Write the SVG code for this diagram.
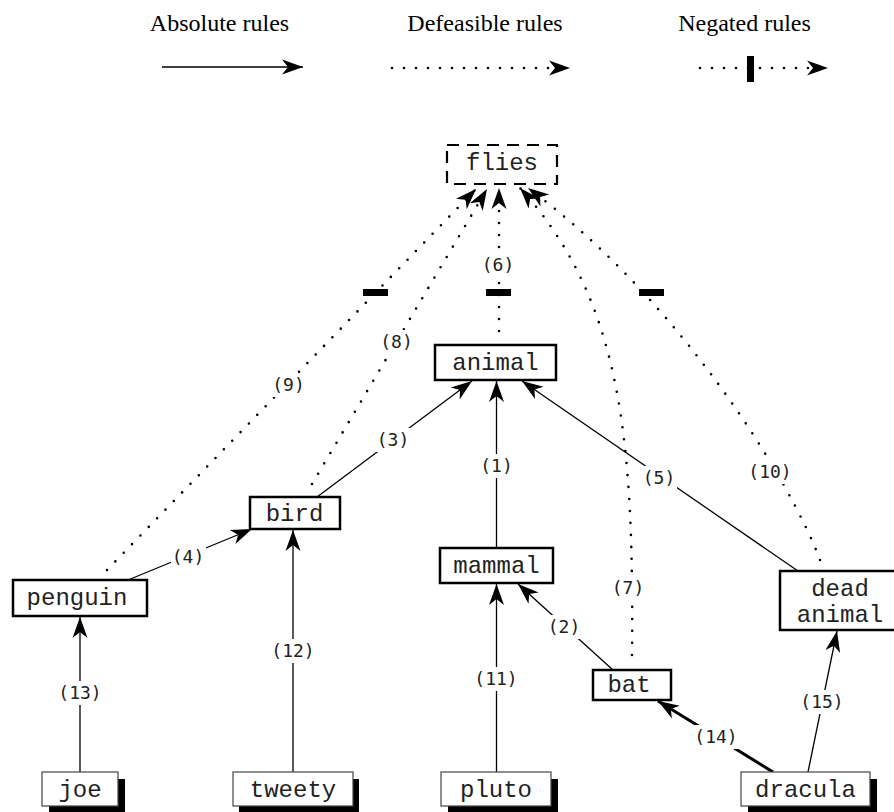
<svg xmlns="http://www.w3.org/2000/svg" width="894" height="812" viewBox="0 0 894 812">
<style>
.legend{font-family:"Liberation Serif","Times New Roman",serif;font-size:24px;fill:#000}
.nt{font-family:"Liberation Mono","Courier New",monospace;font-size:24px;fill:#222;text-anchor:middle}
.box{fill:#fff;stroke:#000;stroke-width:2.5}
.sbox{fill:#fff;stroke:#444;stroke-width:1.2}
.shadow{fill:#000}
.abs{fill:none;stroke:#000;stroke-width:1.3}
.thick{fill:none;stroke:#000;stroke-width:3}
.def{fill:none;stroke:#000;stroke-width:2.6;stroke-linecap:round;stroke-dasharray:0 12}
.bar{fill:#000}
.lbl{font-family:"DejaVu Sans Mono","Liberation Mono",monospace;font-size:18px;fill:#222;text-anchor:middle}
.lbg{fill:#fff}
</style>
<defs>
<marker id="ah" markerUnits="userSpaceOnUse" viewBox="-22 -10 24 20" markerWidth="24" markerHeight="20" refX="0" refY="0" orient="auto">
<path d="M0,0 L-21,-7.5 L-15,0 L-21,7.5 Z" fill="#000"/>
</marker>
</defs>

<g id="legend">
<text class="legend" x="219.5" y="31" text-anchor="middle">Absolute rules</text>
<text class="legend" x="485" y="31" text-anchor="middle">Defeasible rules</text>
<text class="legend" x="744.5" y="31" text-anchor="middle">Negated rules</text>
<path class="abs" d="M162 67 L303 67" marker-end="url(#ah)"/>
<path class="def" d="M392 68 L570 68" marker-end="url(#ah)"/>
<path class="def" d="M700 68 L828 68" marker-end="url(#ah)"/>
<rect class="bar" x="747" y="56" width="7" height="26"/>
</g>

<g id="connectors">
<path class="abs" d="M496.5 548 L496.5 381" marker-end="url(#ah)"/>
<path class="abs" d="M613 670 L518 584" marker-end="url(#ah)"/>
<path class="abs" d="M317 497 L472 381" marker-end="url(#ah)"/>
<path class="abs" d="M128 580 L252 529" marker-end="url(#ah)"/>
<path class="abs" d="M798 571 L522 381" marker-end="url(#ah)"/>
<path class="abs" d="M496.5 772 L496.5 584" marker-end="url(#ah)"/>
<path class="abs" d="M293 772 L293 530" marker-end="url(#ah)"/>
<path class="abs" d="M80 772 L80 617" marker-end="url(#ah)"/>
<path class="thick" d="M773 772 L658 701" marker-end="url(#ah)"/>
<path class="abs" d="M808 772 L837 631" marker-end="url(#ah)"/>
<path class="def" d="M107 570 L476 189" marker-end="url(#ah)"/>
<path class="def" d="M312 484 L487 189" marker-end="url(#ah)"/>
<path class="def" d="M499 331 L499 188" marker-end="url(#ah)"/>
<path class="def" d="M632 655 C634 440 622 300 520 188" marker-end="url(#ah)"/>
<path class="def" d="M820 560 C790 480 680 300 528 188" marker-end="url(#ah)"/>
<rect class="bar" x="363" y="289" width="25" height="7"/>
<rect class="bar" x="486" y="289" width="25" height="7"/>
<rect class="bar" x="639" y="289" width="25" height="7"/>
<g id="labels">
<rect class="lbg" x="479" y="454" width="35" height="24"/><text class="lbl" x="496.5" y="472">(1)</text>
<rect class="lbg" x="547" y="615" width="35" height="24"/><text class="lbl" x="564" y="633">(2)</text>
<rect class="lbg" x="376" y="428" width="35" height="24"/><text class="lbl" x="393" y="446">(3)</text>
<rect class="lbg" x="171" y="545" width="35" height="24"/><text class="lbl" x="188" y="563">(4)</text>
<rect class="lbg" x="642" y="466" width="35" height="24"/><text class="lbl" x="659" y="484">(5)</text>
<rect class="lbg" x="481" y="253" width="35" height="24"/><text class="lbl" x="498" y="271">(6)</text>
<rect class="lbg" x="611" y="576" width="35" height="24"/><text class="lbl" x="628" y="594">(7)</text>
<rect class="lbg" x="379" y="330" width="35" height="24"/><text class="lbl" x="396.5" y="348">(8)</text>
<rect class="lbg" x="271" y="373" width="35" height="24"/><text class="lbl" x="288.5" y="391">(9)</text>
<rect class="lbg" x="746" y="460" width="48" height="24"/><text class="lbl" x="770" y="478">(10)</text>
<rect class="lbg" x="472" y="667" width="48" height="24"/><text class="lbl" x="496" y="685">(11)</text>
<rect class="lbg" x="269" y="639" width="48" height="24"/><text class="lbl" x="293" y="657">(12)</text>
<rect class="lbg" x="56" y="681" width="48" height="24"/><text class="lbl" x="80" y="699">(13)</text>
<rect class="lbg" x="692" y="725" width="48" height="24"/><text class="lbl" x="716" y="743">(14)</text>
<rect class="lbg" x="798" y="690" width="48" height="24"/><text class="lbl" x="822" y="708">(15)</text>
</g>
</g>

<g id="flies">
<rect x="447" y="145" width="110" height="39" fill="#fff" stroke="#000" stroke-width="2.2" stroke-dasharray="12 8"/>
<text class="nt" x="502" y="170">flies</text>
</g>
<g id="animal">
<rect class="box" x="435" y="345" width="121" height="35"/>
<text class="nt" x="495.5" y="370">animal</text>
</g>
<g id="bird">
<rect class="box" x="250" y="497" width="90" height="32"/>
<text class="nt" x="294.5" y="521">bird</text>
</g>
<g id="mammal">
<rect class="box" x="440" y="548" width="113" height="35"/>
<text class="nt" x="496.5" y="573">mammal</text>
</g>
<g id="penguin">
<rect class="box" x="13" y="580" width="134" height="36"/>
<text class="nt" x="77" y="605">penguin</text>
</g>
<g id="dead_animal">
<rect class="box" x="780" y="571" width="124" height="59"/>
<text class="nt" x="840" y="596">dead</text>
<text class="nt" x="840" y="622">animal</text>
</g>
<g id="bat">
<rect class="box" x="593" y="670" width="78" height="30"/>
<text class="nt" x="629" y="692">bat</text>
</g>
<g id="joe">
<rect class="shadow" x="49" y="779" width="76" height="34"/>
<rect class="sbox" x="42" y="772" width="76" height="34"/>
<text class="nt" x="80" y="797">joe</text>
</g>
<g id="tweety">
<rect class="shadow" x="239" y="779" width="120" height="34"/>
<rect class="sbox" x="233" y="772" width="120" height="34"/>
<text class="nt" x="293" y="797">tweety</text>
</g>
<g id="pluto">
<rect class="shadow" x="448" y="779" width="110" height="34"/>
<rect class="sbox" x="441" y="772" width="110" height="34"/>
<text class="nt" x="496" y="797">pluto</text>
</g>
<g id="dracula">
<rect class="shadow" x="748" y="779" width="129" height="34"/>
<rect class="sbox" x="741" y="772" width="129" height="34"/>
<text class="nt" x="805.5" y="797">dracula</text>
</g>
</svg>
